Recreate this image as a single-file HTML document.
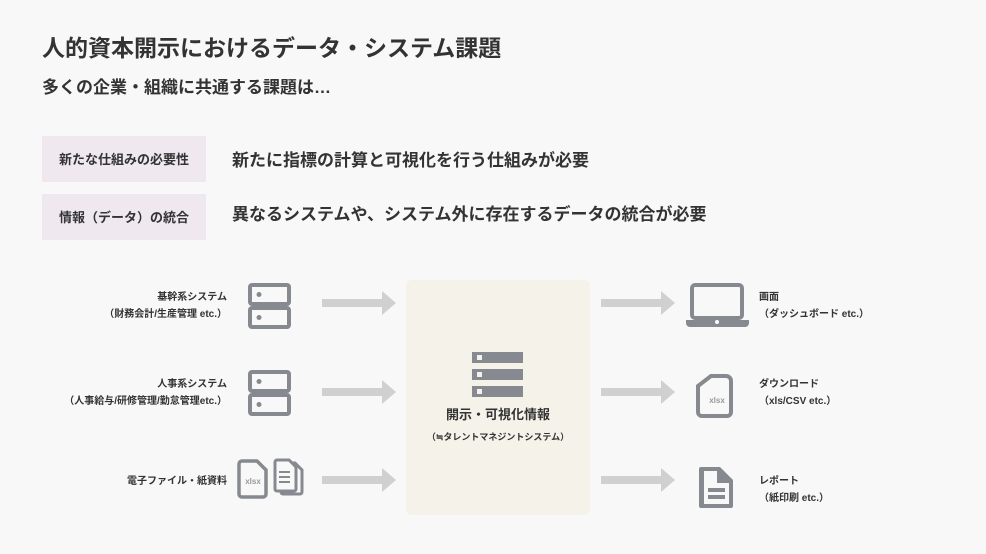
<!DOCTYPE html>
<html><head><meta charset="utf-8"><style>
html,body{margin:0;padding:0;background:#f8f8f8;}
svg{display:block;font-family:"Liberation Sans","Noto Sans CJK JP",sans-serif;}
</style></head><body>
<svg width="986" height="554" viewBox="0 0 986 554" xmlns="http://www.w3.org/2000/svg">
<rect width="986" height="554" fill="#f8f8f8"/>
<text x="42" y="56" font-size="23" font-weight="bold" fill="#333">人的資本開示におけるデータ・システム課題</text>
<text x="42" y="93" font-size="17" font-weight="bold" fill="#333">多くの企業・組織に共通する課題は…</text>
<rect x="42" y="136" width="164" height="46" fill="#efe8ef"/>
<rect x="42" y="194" width="164" height="46" fill="#efe8ef"/>
<text x="124" y="164" font-size="13" font-weight="bold" fill="#333" text-anchor="middle">新たな仕組みの必要性</text>
<text x="124" y="222" font-size="13" font-weight="bold" fill="#333" text-anchor="middle">情報（データ）の統合</text>
<text x="232" y="166" font-size="17" font-weight="bold" fill="#333">新たに指標の計算と可視化を行う仕組みが必要</text>
<text x="232" y="220" font-size="17" font-weight="bold" fill="#333">異なるシステムや、システム外に存在するデータの統合が必要</text>

<rect x="406" y="280" width="184" height="235" rx="6" fill="#f5f2ea"/>

<g fill="#d0d0d0">
<path d="M322 299h60v-8l14 12-14 12v-8h-60z"/>
<path d="M322 388h60v-8l14 12-14 12v-8h-60z"/>
<path d="M322 476h60v-8l14 12-14 12v-8h-60z"/>
<path d="M601 299h60v-8l14 12-14 12v-8h-60z"/>
<path d="M601 388h60v-8l14 12-14 12v-8h-60z"/>
<path d="M601 476h60v-8l14 12-14 12v-8h-60z"/>
</g>

<g fill="none" stroke="#868a90" stroke-width="4">
<rect x="250" y="285" width="39" height="19" rx="2"/>
<rect x="250" y="308" width="39" height="19" rx="2"/>
<rect x="250" y="372" width="39" height="19" rx="2"/>
<rect x="250" y="395" width="39" height="19" rx="2"/>
</g>
<g fill="#868a90">
<circle cx="259" cy="294.5" r="2.5"/><circle cx="259" cy="317.5" r="2.5"/>
<circle cx="259" cy="381.5" r="2.5"/><circle cx="259" cy="404.5" r="2.5"/>
</g>
<path d="M242 461h15l9 9v24a3 3 0 0 1-3 3h-21a3 3 0 0 1-3-3v-30a3 3 0 0 1 3-3z" fill="none" stroke="#868a90" stroke-width="3.5"/>
<text x="253" y="484" font-size="8" font-weight="bold" fill="#999" text-anchor="middle">xlsx</text>
<path d="M283 463h12l7 7v22a2 2 0 0 1-2 2h-17a2 2 0 0 1-2-2v-27a2 2 0 0 1 2-2z" fill="none" stroke="#868a90" stroke-width="3"/>
<path d="M277 460h12l7 7v22a2 2 0 0 1-2 2h-17a2 2 0 0 1-2-2v-27a2 2 0 0 1 2-2z" fill="#f8f8f8" stroke="#868a90" stroke-width="3"/>
<g stroke="#868a90" stroke-width="2"><line x1="279" y1="472" x2="290" y2="472"/><line x1="279" y1="477" x2="290" y2="477"/><line x1="279" y1="482" x2="290" y2="482"/></g>

<g fill="#868a90">
<rect x="472" y="352" width="51" height="11"/><rect x="472" y="369" width="51" height="11"/><rect x="472" y="386" width="51" height="11"/>
</g>
<g fill="#f5f2ea"><rect x="477" y="355" width="5" height="5"/><rect x="477" y="372" width="5" height="5"/><rect x="477" y="389" width="5" height="5"/></g>
<text x="498" y="419" font-size="13" font-weight="bold" fill="#333" text-anchor="middle">開示・可視化情報</text>
<text x="498" y="440" font-size="9" font-weight="bold" fill="#333" text-anchor="middle">（≒タレントマネジントシステム）</text>

<rect x="692" y="285" width="50" height="33" rx="3" fill="none" stroke="#868a90" stroke-width="4"/>
<path d="M686 320h63v3a4 4 0 0 1-4 4h-55a4 4 0 0 1-4-4z" fill="#868a90"/>
<circle cx="717" cy="322" r="2" fill="#f8f8f8"/>
<path d="M711 376h15a5 5 0 0 1 5 5v31a4 4 0 0 1-4 4h-25a4 4 0 0 1-4-4v-26z" fill="none" stroke="#868a90" stroke-width="4"/>
<text x="717" y="403" font-size="8" font-weight="bold" fill="#999" text-anchor="middle">xlsx</text>
<path d="M701 467h19l13 13v26a2 2 0 0 1-2 2h-30a2 2 0 0 1-2-2v-37a2 2 0 0 1 2-2z" fill="#868a90"/>
<path d="M704 471h13v12h12v21h-25z" fill="#f8f8f8"/>
<rect x="708" y="488" width="17" height="4" fill="#868a90"/><rect x="708" y="495" width="17" height="4" fill="#868a90"/>

<g font-size="10" font-weight="bold" fill="#333">
<text x="227" y="300" text-anchor="end">基幹系システム</text>
<text x="227" y="317" text-anchor="end">（財務会計/生産管理 etc.）</text>
<text x="227" y="387" text-anchor="end">人事系システム</text>
<text x="227" y="404" text-anchor="end">（人事給与/研修管理/勤怠管理etc.）</text>
<text x="227" y="484" text-anchor="end">電子ファイル・紙資料</text>
<text x="759" y="300">画面</text>
<text x="759" y="317">（ダッシュボード etc.）</text>
<text x="759" y="387">ダウンロード</text>
<text x="759" y="404">（xls/CSV etc.）</text>
<text x="759" y="484">レポート</text>
<text x="759" y="501">（紙印刷 etc.）</text>
</g>
</svg>
</body></html>
